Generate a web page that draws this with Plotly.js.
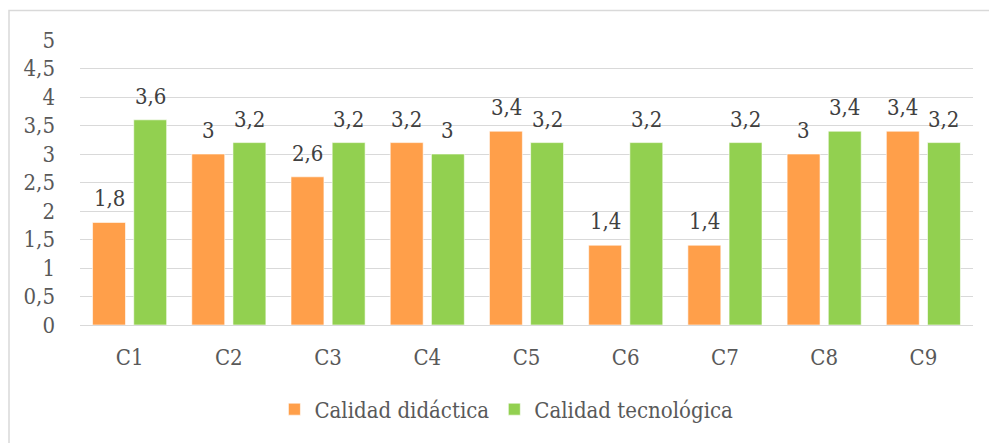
<!DOCTYPE html>
<html>
<head>
<meta charset="utf-8">
<script src="https://cdn.plot.ly/plotly-3.0.1.min.js"></script>
<style>html,body{margin:0;padding:0;background:#fff;}#chart{width:989px;height:443px;}</style>
</head>
<body>
<div id="chart"></div>
<script>
const categories = ["C1","C2","C3","C4","C5","C6","C7","C8","C9"];
const seriesNames = ["Calidad didáctica","Calidad tecnológica"];
const didactica = [1.8, 3, 2.6, 3.2, 3.4, 1.4, 1.4, 3, 3.4];
const tecnologica = [3.6, 3.2, 3.2, 3, 3.2, 3.2, 3.2, 3.4, 3.2];
const yTicks = [0,0.5,1,1.5,2,2.5,3,3.5,4,4.5,5];

const fmt = v => String(v).replace('.', ',');
const FONT = "DejaVu Serif Condensed, DejaVu Serif, serif";
const FS = 22;

function bar(name, vals, color) {
  return {
    type: 'bar', name: name, x: categories, y: vals,
    marker: {color: color, line: {color: 'rgba(255,255,255,0.6)', width: 1}},
    hoverinfo: 'x+y'
  };
}

const data = [
  bar(seriesNames[0], didactica, '#FF9F4A'),
  bar(seriesNames[1], tecnologica, '#92D050')
];

// data labels placed above each bar (offset to the bar's slot within the group)
const SLOT = 20.5;
const annotations = [];
[[didactica, -SLOT], [tecnologica, SLOT]].forEach(([vals, dx]) => {
  vals.forEach((v, i) => {
    annotations.push({x: categories[i], y: v, xref: 'x', yref: 'y', text: fmt(v),
      showarrow: false, xshift: dx, yshift: 9, yanchor: 'bottom', xanchor: 'center',
      font: {family: FONT, size: FS, color: '#404040'}});
  });
});

const layout = {
  width: 989, height: 443,
  margin: {l: 80, r: 16, t: 40, b: 114},
  paper_bgcolor: '#fff', plot_bgcolor: '#fff',
  separators: ',.',
  font: {family: FONT, size: FS, color: '#595959'},
  barmode: 'group', bargap: 0.17, bargroupgap: 0.2,
  showlegend: true,
  legend: {orientation: 'h', x: 0.4775, xanchor: 'center', y: -0.296, yanchor: 'middle',
    font: {family: FONT, size: FS, color: '#595959'}, traceorder: 'normal'},
  xaxis: {showgrid: false, zeroline: false, showline: false, ticks: '', ticklen: 0,
    ticklabelstandoff: 17,
    tickfont: {family: FONT, size: FS, color: '#595959'}, automargin: false},
  yaxis: {range: [0, 5], tickvals: yTicks, ticktext: yTicks.map(fmt), showgrid: true,
    gridcolor: '#D9D9D9', gridwidth: 1, zeroline: true, zerolinecolor: '#D9D9D9', zerolinewidth: 1,
    showline: false, ticks: '', ticklabelstandoff: 24,
    tickfont: {family: FONT, size: FS, color: '#595959'}, automargin: false},
  annotations: annotations,
  shapes: [{type: 'rect', xref: 'paper', yref: 'paper', x0: -71/893, x1: 1.2, y0: -0.5, y1: 30/289 + 1,
    line: {color: '#D9D9D9', width: 1.5}, fillcolor: 'rgba(0,0,0,0)', layer: 'below'}]
};

Plotly.newPlot('chart', data, layout, {displayModeBar: false, staticPlot: true});
</script>
</body>
</html>
